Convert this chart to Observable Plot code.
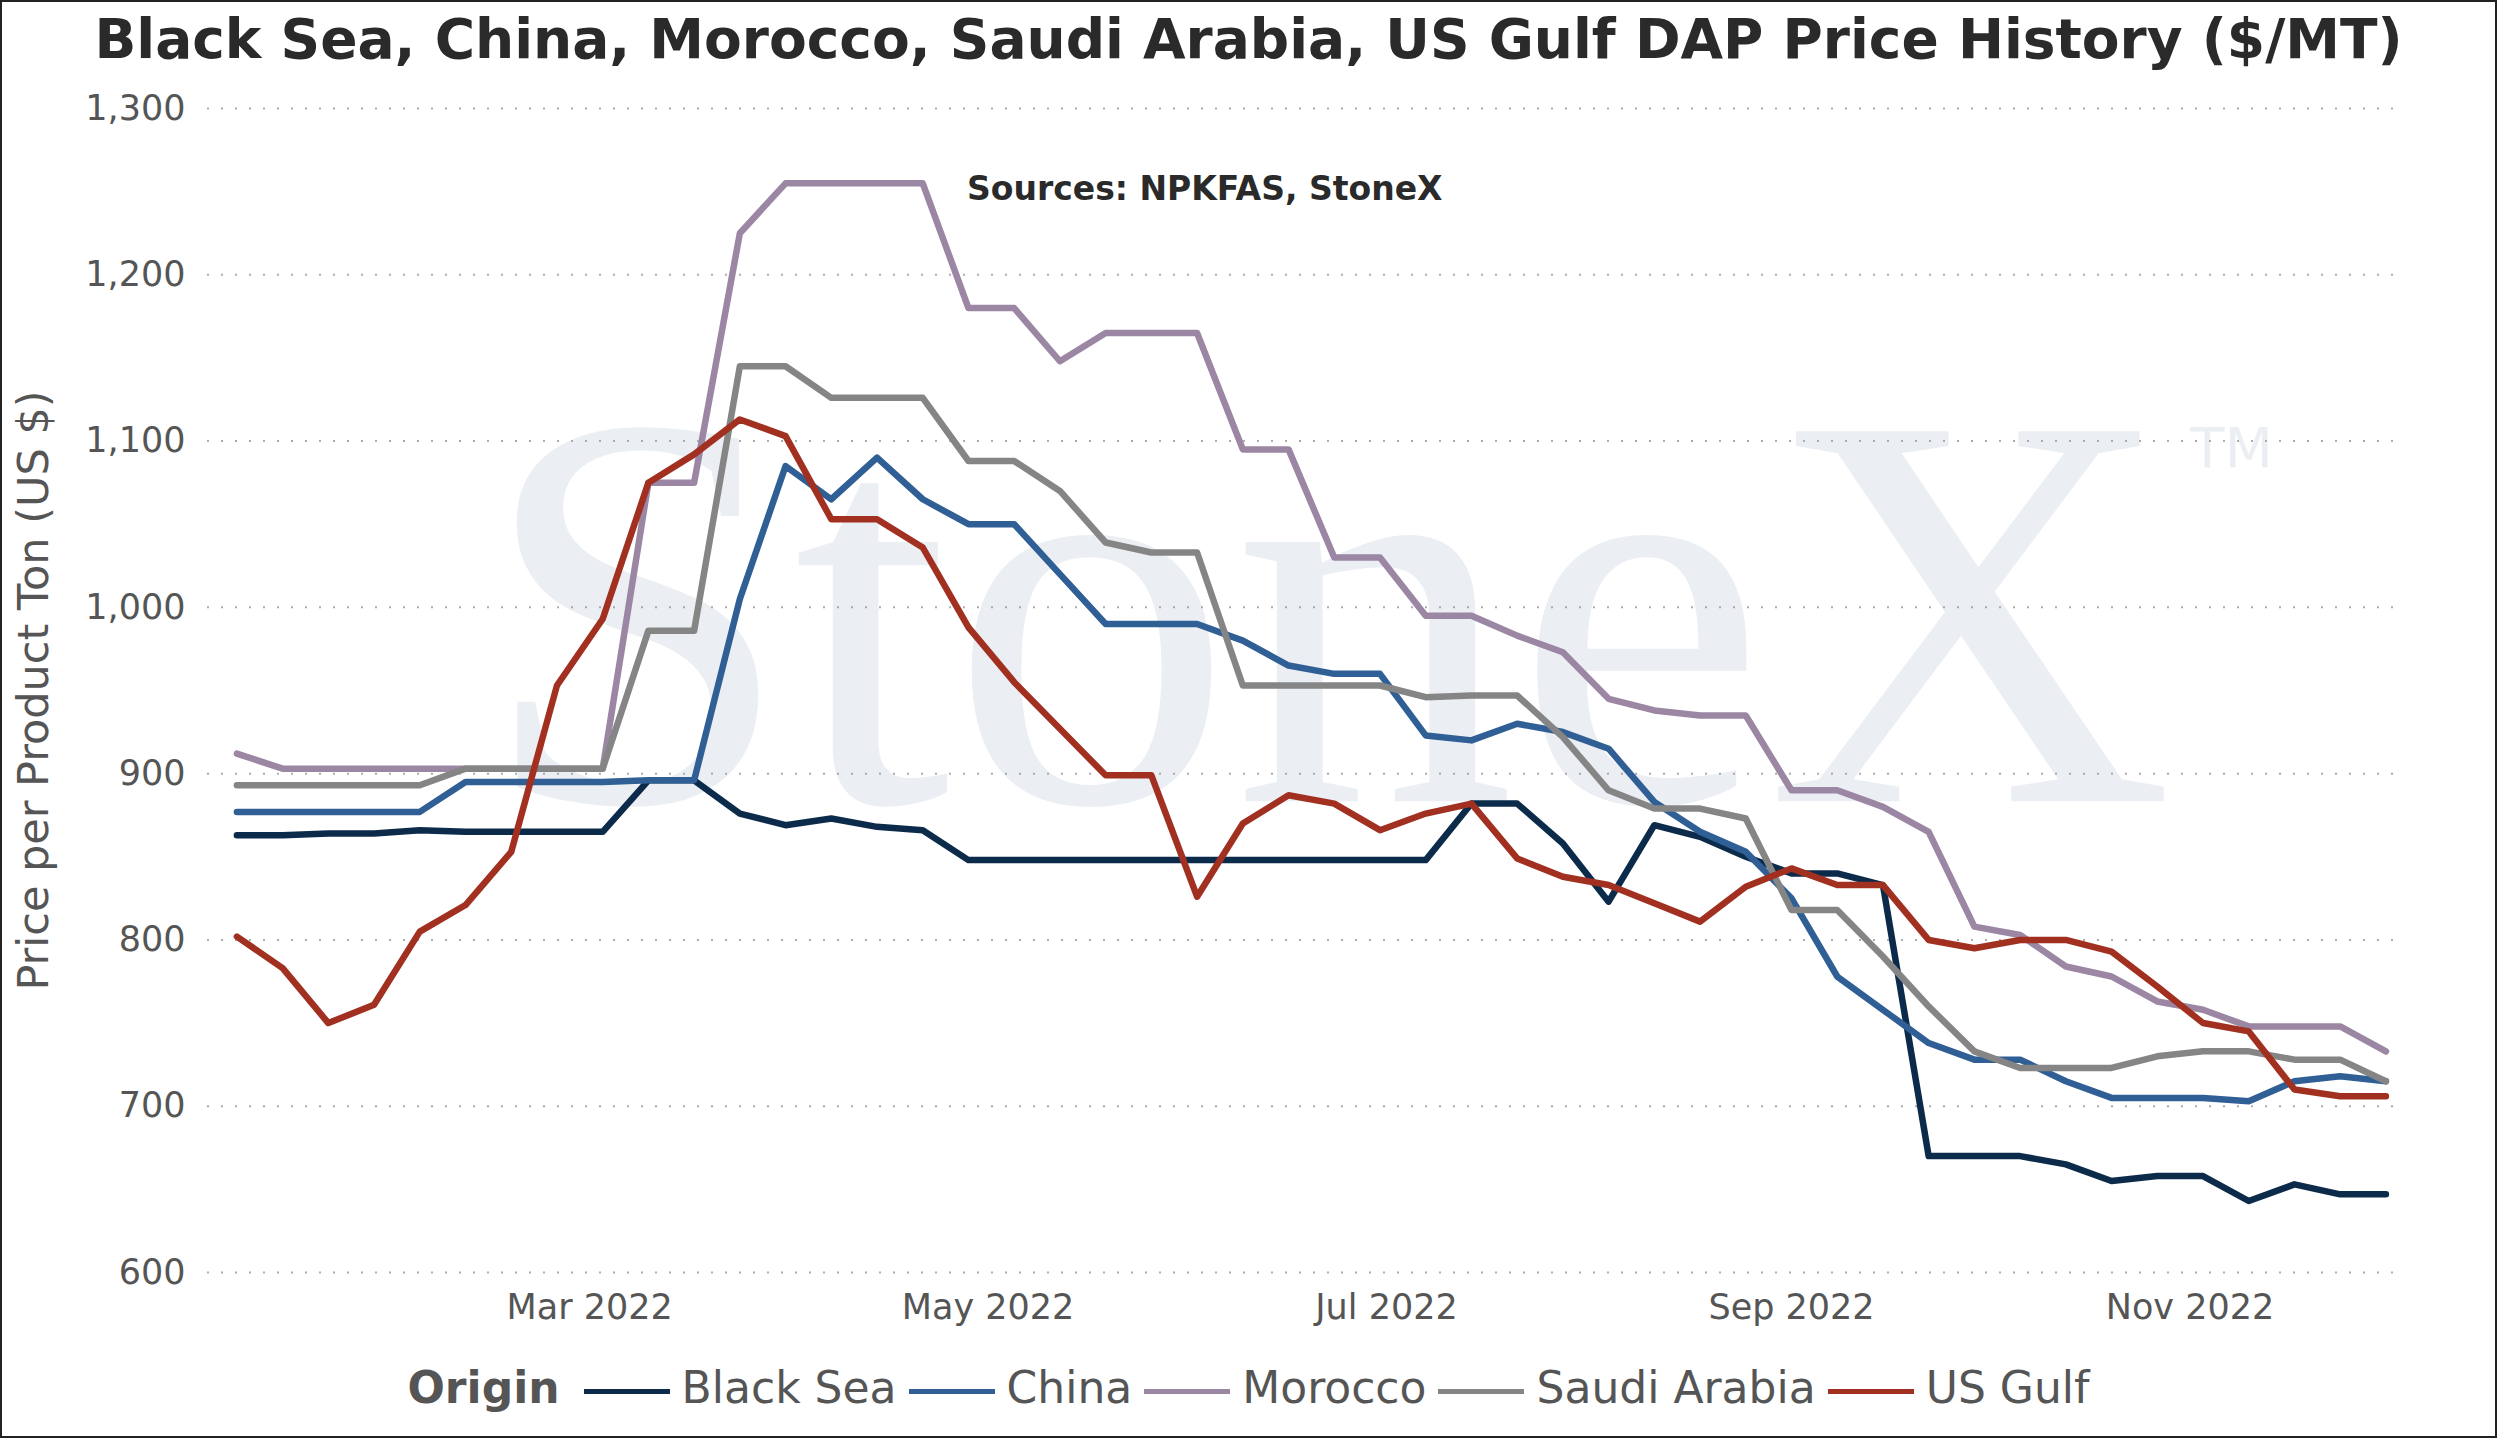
<!DOCTYPE html>
<html>
<head>
<meta charset="utf-8">
<script src="https://cdn.jsdelivr.net/npm/d3@7"></script>
<script src="https://cdn.jsdelivr.net/npm/@observablehq/plot@0.6"></script>
<style>
  body { margin: 0; background: #fff; font-family: "DejaVu Sans", Verdana, sans-serif; }
  #frame { position: relative; width: 2493px; height: 1434px; border: 2px solid #222; overflow: hidden; }
  #title { height: 78px; line-height: 74px; text-align: center; font-weight: bold; font-size: 55px; color: #2a2a2a; }
  #sources { position: absolute; left: 965px; top: 167px; font-weight: bold; font-size: 33px; color: #2a2a2a; }
  #legend { text-align: center; font-size: 44px; color: #555; margin-top: 20px; }
  #legend b { color: #555; margin-right: 12px; }
  #legend span.sw { display: inline-block; width: 86px; height: 5px; vertical-align: middle; margin: 0 12px 0 12px; }
</style>
</head>
<body>
<div id="frame">
  <div id="title">Black Sea, China, Morocco, Saudi Arabia, US Gulf DAP Price History ($/MT)</div>
  <div id="chart"></div>
  <div id="sources">Sources: NPKFAS, StoneX</div>
  <div id="legend"></div>
</div>
<script>
const origins = ['Black Sea', 'China', 'Morocco', 'Saudi Arabia', 'US Gulf']
const colors = ['#0c2b4b', '#2f5f95', '#9b86a3', '#858585', '#a13021']

const startDate = new Date(2022, 0, 6)
const weeks = d3.range(48).map(i => d3.timeWeek.offset(startDate, i))

const blackSea = [863,863,864,864,866,865,865,865,865,896,896,876,869,873,868,866,848,848,848,848,848,848,848,848,848,848,848,882,882,858,823,869,862,850,840,840,833,670,670,670,665,655,658,658,643,653,647,647]
const china = [877,877,877,877,877,895,895,895,895,896,896,1005,1085,1065,1090,1065,1050,1050,1020,990,990,990,980,965,960,960,923,920,930,925,915,883,865,853,825,778,758,738,728,728,715,705,705,705,703,715,718,715]
const morocco = [912,903,903,903,903,903,903,903,903,1075,1075,1225,1255,1255,1255,1255,1180,1180,1148,1165,1165,1165,1095,1095,1030,1030,995,995,983,973,945,938,935,935,890,890,880,865,808,803,784,778,763,758,748,748,748,733]
const saudi = [893,893,893,893,893,903,903,903,903,986,986,1145,1145,1126,1126,1126,1088,1088,1070,1039,1033,1033,953,953,953,953,946,947,947,922,890,879,879,873,818,818,790,760,733,723,723,723,730,733,733,728,728,715]
const usGulf = [802,783,750,761,805,821,853,953,993,1075,1092,1113,1103,1053,1053,1036,988,955,927,899,899,826,870,887,882,866,876,882,849,838,833,822,811,832,843,833,833,800,795,800,800,793,772,750,745,710,706,706]

const seriesValues = [blackSea, china, morocco, saudi, usGulf]
const rows = origins.flatMap((o, k) => seriesValues[k].map((v, i) => ({origin: o, date: weeks[i], price: v})))

const yTicks = [600, 700, 800, 900, 1000, 1100, 1200, 1300]
const xTicks = [new Date(2022, 2, 1), new Date(2022, 4, 1), new Date(2022, 6, 1), new Date(2022, 8, 1), new Date(2022, 10, 1)]

const chart = Plot.plot({
  width: 2493,
  height: 1262,
  marginLeft: 205,
  marginRight: 90,
  marginTop: 28,
  marginBottom: 70,
  style: {fontFamily: '"DejaVu Sans", Verdana, sans-serif', fontSize: '35px', color: '#555', background: 'transparent'},
  x: {type: 'time', domain: [new Date(2022, 0, 1, 12), new Date(2022, 11, 4)], ticks: xTicks, tickFormat: d3.timeFormat('%b %Y'), tickSize: 0, tickPadding: 22, label: null},
  y: {domain: [600, 1300]},
  color: {domain: origins, range: colors},
  marks: [
    Plot.text(['StoneX'], {frameAnchor: 'middle', dx: 20, dy: -70, text: d => d, fontFamily: '"Liberation Serif", serif', fontSize: 565, fill: '#ebeef2', textAnchor: 'middle', lineAnchor: 'middle'}),
    Plot.text(['TM'], {frameAnchor: 'middle', dx: 925, dy: -241, text: d => d, fontFamily: '"DejaVu Sans", sans-serif', fontSize: 56, fill: '#ebeef2'}),
    Plot.gridY(yTicks, {stroke: '#999', strokeOpacity: 0.8, strokeWidth: 2, strokeDasharray: '2,12'}),
    Plot.axisY(yTicks, {tickSize: 0, tickPadding: 22, tickFormat: d3.format(','), fontSize: 35, label: 'Price per Product Ton (US $)', labelArrow: 'none', labelAnchor: 'center', labelOffset: 190}),
    Plot.line(rows, {x: 'date', y: 'price', z: 'origin', stroke: 'origin', strokeWidth: 6.5})
  ]
})
chart.querySelectorAll('[aria-label="y-axis label"] text').forEach(t => t.setAttribute('font-size', '43'))
document.querySelector('#chart').append(chart)

const legend = d3.select('#legend')
legend.append('b').text('Origin')
origins.forEach((o, k) => {
  legend.append('span').attr('class', 'sw').style('background', colors[k])
  legend.append('span').text(o)
})
</script>
</body>
</html>
